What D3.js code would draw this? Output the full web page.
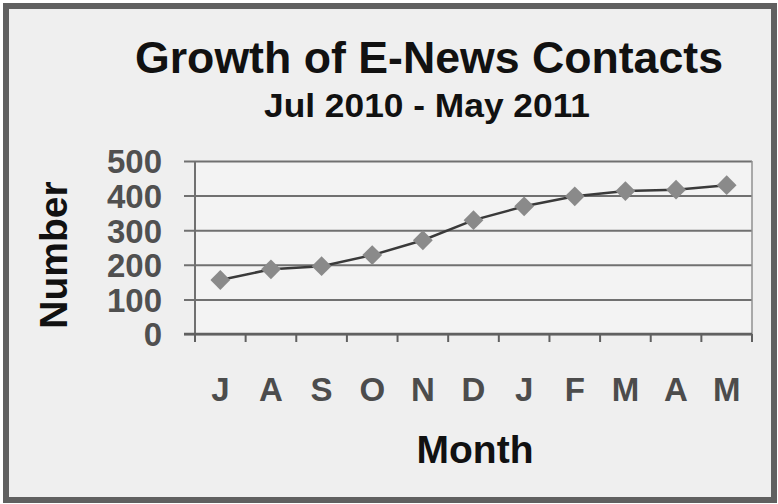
<!DOCTYPE html>
<html>
<head>
<meta charset="utf-8">
<script src="https://cdn.jsdelivr.net/npm/d3@7"></script>
<style>
  body { margin: 0; background: #fff; }
  svg { display: block; font-family: "Liberation Sans", Arial, sans-serif; }
</style>
</head>
<body>
<div id="chart"></div>
<script>
// chart data
const months = ['J', 'A', 'S', 'O', 'N', 'D', 'J', 'F', 'M', 'A', 'M'];
const contacts = [156, 187, 196, 228, 271, 329, 369, 398, 413, 417, 430];
const yTicks = [0, 100, 200, 300, 400, 500];

const width = 778, height = 504;
const margin = {t: 161, r: 26, b: 170, l: 195};
const w = width - margin.l - margin.r;
const h = height - margin.t - margin.b;

const data = months.map((m, i) => ({key: i, label: m, value: contacts[i]}));

const svg = d3.select('#chart').append('svg')
    .attr('width', width)
    .attr('height', height);

// frame
svg.append('rect')
    .attr('x', 6).attr('y', 6)
    .attr('width', width - 10).attr('height', height - 10)
    .attr('fill', '#efefef')
    .attr('stroke', '#606060')
    .attr('stroke-width', 6);

// titles
svg.append('text')
    .attr('x', 429).attr('y', 73)
    .attr('text-anchor', 'middle')
    .attr('font-size', 44).attr('font-weight', 'bold')
    .attr('textLength', 588).attr('lengthAdjust', 'spacingAndGlyphs')
    .attr('fill', '#111')
    .text('Growth of E-News Contacts');

svg.append('text')
    .attr('x', 427).attr('y', 117)
    .attr('text-anchor', 'middle')
    .attr('font-size', 34).attr('font-weight', 'bold')
    .attr('textLength', 326).attr('lengthAdjust', 'spacingAndGlyphs')
    .attr('fill', '#111')
    .text('Jul 2010 - May 2011');

const x = d3.scaleBand()
    .domain(data.map(d => d.key))
    .range([0, w]);

const y = d3.scaleLinear()
    .domain([0, 500])
    .range([h, 0]);

const plot = svg.append('g')
    .attr('transform', `translate(${margin.l},${margin.t})`);

plot.append('rect')
    .attr('width', w).attr('height', h)
    .attr('fill', '#f3f3f3');

// gridlines + y axis
const yAxis = plot.append('g')
    .call(d3.axisLeft(y).tickValues(yTicks).tickSizeOuter(0).tickFormat(d3.format('d')));
yAxis.select('.domain').remove();
yAxis.selectAll('.tick line')
    .attr('x1', -11).attr('x2', w)
    .attr('stroke', '#707070').attr('stroke-width', 2);
yAxis.selectAll('.tick text')
    .attr('x', -33)
    .attr('dy', '0.36em')
    .attr('font-size', 33).attr('font-weight', 'bold')
    .attr('font-family', '"Liberation Sans", Arial, sans-serif')
    .attr('fill', '#505050');

// vertical axis lines
plot.append('line')
    .attr('x1', 0).attr('x2', 0).attr('y1', 0).attr('y2', h)
    .attr('stroke', '#707070').attr('stroke-width', 2);
plot.append('line')
    .attr('x1', w).attr('x2', w).attr('y1', 0).attr('y2', h)
    .attr('stroke', '#909090').attr('stroke-width', 1.5);

// x axis with ticks at band edges
const xAxis = plot.append('g')
    .attr('transform', `translate(0,${h})`);
xAxis.append('line')
    .attr('x1', -11).attr('x2', w).attr('stroke', '#606060').attr('stroke-width', 2.5);
xAxis.selectAll('.xtick')
    .data(d3.range(months.length + 1))
    .enter()
    .append('line')
    .classed('xtick', true)
    .attr('x1', i => i === months.length ? w : x(i))
    .attr('x2', i => i === months.length ? w : x(i))
    .attr('y1', 0).attr('y2', 8)
    .attr('stroke', '#606060').attr('stroke-width', 2);
xAxis.selectAll('.xlabel')
    .data(data)
    .enter()
    .append('text')
    .classed('xlabel', true)
    .attr('x', d => x(d.key) + x.bandwidth() / 2)
    .attr('y', 67)
    .attr('text-anchor', 'middle')
    .attr('font-size', 33).attr('font-weight', 'bold')
    .attr('fill', '#4c4c4c')
    .text(d => d.label);

// axis titles
svg.append('text')
    .attr('x', 475).attr('y', 463)
    .attr('text-anchor', 'middle')
    .attr('font-size', 39).attr('font-weight', 'bold')
    .attr('fill', '#111')
    .text('Month');

svg.append('text')
    .attr('transform', 'translate(67,255) rotate(-90)')
    .attr('text-anchor', 'middle')
    .attr('font-size', 39).attr('font-weight', 'bold')
    .attr('fill', '#111')
    .text('Number');

// series line
const line = d3.line()
    .x(d => x(d.key) + x.bandwidth() / 2)
    .y(d => y(d.value));

plot.append('path')
    .datum(data)
    .attr('d', line)
    .attr('fill', 'none')
    .attr('stroke', '#3a3a3a')
    .attr('stroke-width', 2.5);

// diamond markers
plot.selectAll('.marker')
    .data(data)
    .enter()
    .append('path')
    .classed('marker', true)
    .attr('d', d3.symbol().type(d3.symbolDiamond2).size(250))
    .attr('transform', d => `translate(${x(d.key) + x.bandwidth() / 2},${y(d.value)})`)
    .attr('fill', '#8a8a8a');
</script>
</body>
</html>
